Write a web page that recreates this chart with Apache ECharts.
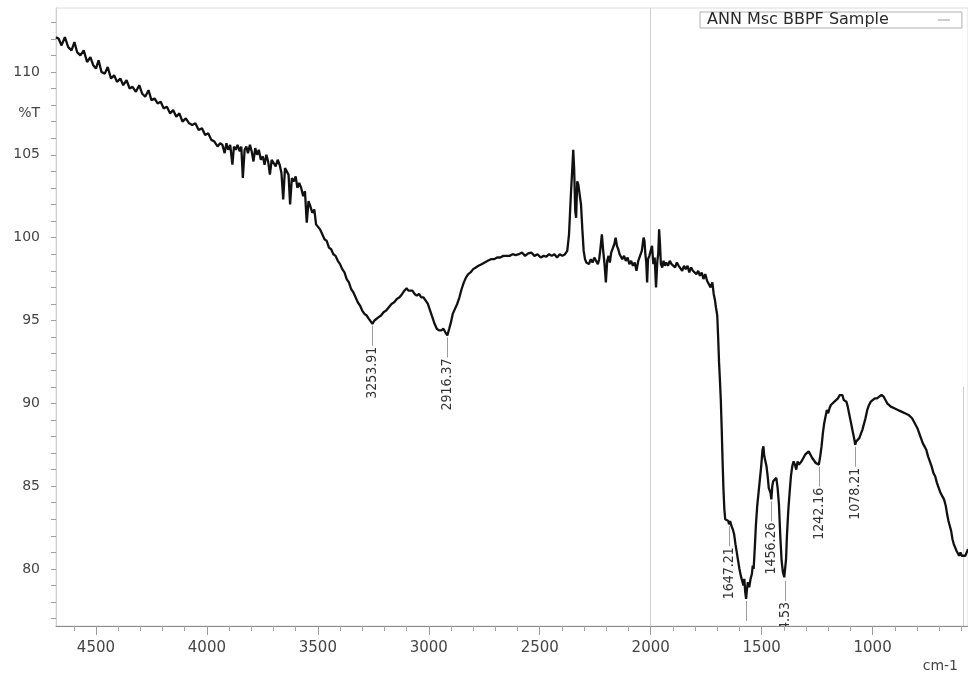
<!DOCTYPE html>
<html>
<head>
<meta charset="utf-8">
<script src="https://cdn.jsdelivr.net/npm/echarts@6/dist/echarts.min.js"></script>
<style>
  html, body { margin: 0; padding: 0; background: #ffffff; }
  #chart { width: 968px; height: 676px; }
</style>
</head>
<body>
<div id="chart"></div>
<script>
// FT-IR spectrum: wavenumber (cm-1) against transmittance (%T)
const seriesName = 'ANN Msc BBPF Sample';

const wavenumber = [
  4680, 4668, 4655, 4640, 4625, 4610, 4597, 4585, 4570, 4555, 4540, 4525, 4512, 4500, 4488, 4475,
  4460, 4447, 4432, 4418, 4405, 4390, 4377, 4362, 4348, 4335, 4320, 4305, 4292, 4278, 4263, 4250,
  4236, 4222, 4208, 4195, 4180, 4166, 4152, 4138, 4124, 4110, 4095, 4080, 4066, 4052, 4037, 4022,
  4008, 3994, 3980, 3966, 3952, 3940,
  3930, 3920, 3912, 3904, 3895, 3885, 3878, 3870, 3862, 3852, 3845, 3838, 3830, 3822, 3815, 3806,
  3798, 3790, 3782, 3774, 3766, 3757, 3748, 3740, 3732, 3724, 3716, 3708, 3700, 3690, 3681, 3672,
  3664, 3656, 3648, 3640, 3632, 3625, 3617, 3608, 3600, 3592, 3584, 3575, 3566, 3558, 3550, 3542,
  3534, 3525, 3516, 3508, 3500, 3490, 3480, 3470, 3460, 3450, 3440, 3430, 3420, 3410, 3400, 3390,
  3380, 3370, 3360, 3350, 3340, 3330, 3320, 3310, 3300, 3290, 3280, 3270, 3262, 3253.91, 3245, 3236,
  3226, 3215, 3204, 3192, 3180, 3168, 3156, 3144, 3132, 3120, 3110, 3100, 3092, 3084, 3074, 3064,
  3054, 3044, 3034, 3024, 3014, 3004, 2994, 2984, 2974, 2964, 2954, 2944, 2934, 2926, 2916.37, 2908,
  2900, 2892, 2882, 2872, 2862, 2852, 2842, 2832, 2822, 2812, 2800, 2788, 2776, 2762, 2748, 2734,
  2720, 2706, 2692, 2678, 2664, 2650, 2636, 2622, 2608, 2594, 2580, 2566, 2552, 2538, 2524, 2510,
  2496, 2482, 2470, 2458, 2446, 2434, 2422, 2410, 2398, 2386, 2376, 2368, 2360, 2354, 2349, 2345,
  2340, 2336, 2331, 2326, 2320, 2314, 2308, 2302, 2296, 2290, 2284, 2278, 2270, 2262, 2254, 2246,
  2238, 2232, 2226, 2220, 2214, 2208, 2202, 2196, 2190, 2184, 2178, 2170, 2164, 2158, 2152, 2146,
  2140, 2134, 2128, 2120, 2112, 2104, 2096, 2088, 2080, 2072, 2064, 2056, 2048, 2040, 2032, 2028,
  2024, 2020, 2016, 2012, 2006, 2000, 1994, 1988, 1982, 1976, 1970, 1966, 1962, 1958, 1954, 1948,
  1942, 1936, 1930, 1922, 1914, 1906, 1898, 1890, 1882, 1874, 1866, 1858, 1850, 1842, 1834, 1826,
  1818, 1810, 1802, 1794, 1786, 1778, 1770, 1762, 1754, 1746, 1738, 1730, 1722, 1716, 1710, 1706,
  1700, 1696, 1692, 1688, 1684, 1680, 1676, 1672, 1668, 1664, 1660, 1655, 1650, 1647.21, 1642, 1636,
  1630, 1624, 1618, 1612, 1606, 1600, 1594, 1588, 1582, 1578, 1574, 1570, 1566, 1562, 1556, 1550,
  1544, 1540, 1536, 1530, 1526, 1520, 1514, 1508, 1502, 1496, 1492, 1488, 1484, 1478, 1472, 1468,
  1464, 1460, 1456.26, 1452, 1448, 1444, 1440, 1434, 1428, 1422, 1416, 1410, 1404, 1398, 1394.53, 1390,
  1386, 1380, 1374, 1368, 1362, 1356, 1350, 1344, 1338, 1332, 1326, 1320, 1312, 1304, 1296, 1288,
  1280, 1272, 1264, 1256, 1248, 1242.16, 1236, 1230, 1224, 1218, 1212, 1206, 1200, 1194, 1188, 1180,
  1172, 1164, 1156, 1148, 1142, 1136, 1130, 1124, 1118, 1112, 1106, 1100, 1094, 1088, 1082, 1078.21,
  1074, 1068, 1060, 1052, 1046, 1040, 1032, 1024, 1016, 1008, 1000, 990, 980, 970, 960, 950,
  942, 934, 926, 918, 910, 902, 894, 886, 878, 870, 862, 854, 846, 838, 830, 822,
  814, 806, 798, 790, 782, 774, 766, 758, 750, 742, 734, 726, 718, 710, 702, 694,
  686, 678, 670, 664, 658, 652, 646, 640, 634, 628, 622, 616, 610, 604, 598, 590,
  582, 574, 570
];

const transmittance = [
  112.1, 112.0, 111.6, 112.1, 111.5, 111.3, 111.8, 111.2, 111.0, 111.3, 110.6, 110.9, 110.4, 110.2, 110.7, 110.0,
  109.9, 110.3, 109.6, 109.8, 109.4, 109.6, 109.2, 109.5, 109.0, 109.1, 108.8, 109.2, 108.7, 108.5, 108.9, 108.3,
  108.4, 108.1, 108.2, 107.8, 107.9, 107.5, 107.7, 107.3, 107.5, 107.0, 107.2, 106.9, 106.8, 106.9, 106.5, 106.6,
  106.2, 106.3, 105.9, 105.8, 105.5, 105.7,
  105.6, 105.1, 105.7, 105.3, 105.6, 104.4, 105.5, 105.3, 105.6, 105.2, 105.5, 103.6, 105.3, 105.5, 105.1, 105.6,
  105.2, 104.6, 105.4, 105.0, 105.3, 104.7, 104.9, 104.4, 105.0, 104.6, 103.8, 104.7, 104.8, 104.3, 104.7, 104.4,
  103.9, 102.3, 104.2, 104.0, 103.8, 102.0, 103.6, 103.4, 103.7, 103.0, 103.3, 103.0, 102.5, 102.8, 100.9, 102.2,
  101.9, 101.5, 101.7, 100.8, 100.9, 100.5, 100.2, 99.9, 99.8, 99.4, 99.3, 99.0, 98.9, 98.6, 98.4, 98.1,
  97.9, 97.5, 97.3, 96.9, 96.7, 96.4, 96.1, 95.9, 95.6, 95.4, 95.3, 95.1, 95.0, 94.8, 95.0, 94.95,
  95.2, 95.3, 95.5, 95.6, 95.8, 96.0, 96.1, 96.3, 96.4, 96.6, 96.8, 96.95, 96.8, 96.7, 96.8, 96.6,
  96.5, 96.6, 96.4, 96.4, 96.2, 96.0, 95.6, 95.2, 94.8, 94.5, 94.4, 94.4, 94.5, 94.3, 94.1, 94.5,
  94.9, 95.4, 95.7, 96.0, 96.4, 96.9, 97.3, 97.6, 97.8, 97.9, 98.1, 98.2, 98.3, 98.4, 98.5, 98.6,
  98.7, 98.7, 98.8, 98.8, 98.9, 98.9, 98.9, 99.0, 98.95, 99.0, 99.1, 98.9, 99.05, 99.1, 98.9, 99.0,
  98.8, 98.9, 98.85, 99.0, 98.9, 99.0, 98.8, 99.0, 98.9, 99.0, 99.2, 100.2, 102.5, 104.0, 105.3, 104.2,
  101.6, 101.2, 103.4, 103.2, 102.6, 102.0, 100.5, 99.2, 98.7, 98.5, 98.6, 98.4, 98.7, 98.5, 98.8, 98.6,
  98.4, 98.7, 99.4, 100.2, 99.2, 98.4, 97.3, 98.6, 98.9, 98.5, 99.1, 99.0, 99.6, 100.0, 99.5, 99.3,
  99.0, 99.1, 98.7, 98.9, 98.6, 98.8, 98.4, 98.6, 98.3, 98.5, 98.0, 98.6, 98.9, 99.2, 100.0, 99.8,
  99.0, 98.5, 97.3, 98.7, 98.9, 99.0, 99.5, 98.4, 98.8, 97.0, 98.6, 99.0, 100.5, 99.6, 98.4, 98.2,
  98.6, 98.3, 98.5, 98.3, 98.6, 98.4, 98.5, 98.2, 98.5, 98.3, 98.4, 98.0, 98.3, 98.1, 98.3, 97.9,
  98.2, 98.0, 98.1, 97.8, 98.0, 97.7, 97.9, 97.5, 97.8, 97.4, 97.5, 97.0, 97.3, 96.6, 96.2, 95.8,
  95.3, 94.0, 92.5, 91.4, 90.2, 88.5, 86.5, 84.8, 83.6, 83.0, 82.9, 83.1, 82.9, 82.7, 82.9, 82.6,
  82.4, 82.1, 81.5, 81.0, 80.5, 80.0, 79.6, 79.3, 79.0, 79.4, 78.6, 78.2, 78.8, 79.2, 78.9, 79.4,
  79.7, 80.2, 80.0, 81.5, 82.6, 83.8, 84.6, 85.4, 86.2, 87.2, 87.4, 86.8, 86.9, 86.2, 85.5, 84.9,
  85.0, 84.6, 84.2, 85.0, 85.3, 85.4, 85.2, 85.5, 84.9, 83.9, 82.0, 80.5, 79.8, 79.5, 79.4, 80.6,
  82.0, 83.5, 84.6, 85.6, 86.2, 86.5, 86.3, 86.0, 86.5, 86.3, 86.2, 86.5, 86.7, 86.9, 87.0, 87.1,
  86.9, 86.7, 86.6, 86.4, 86.5, 86.3, 86.8, 87.4, 88.2, 88.8, 89.2, 89.6, 89.4, 89.7, 89.9, 89.8,
  90.1, 90.0, 90.3, 90.5, 90.4, 90.5, 90.2, 90.3, 90.1, 89.8, 89.4, 89.0, 88.6, 88.2, 87.8, 87.5,
  87.7, 87.8, 87.9, 88.0, 88.4, 88.7, 89.1, 89.6, 89.9, 90.1, 90.1, 90.3, 90.3, 90.4, 90.5, 90.4,
  90.2, 90.0, 89.9, 89.8, 89.9, 89.7, 89.8, 89.6, 89.7, 89.5, 89.6, 89.4, 89.5, 89.3, 89.2, 89.1,
  88.9, 88.8, 88.5, 88.2, 87.9, 87.6, 87.4, 87.2, 86.8, 86.5, 86.2, 85.8, 85.6, 85.2, 84.9, 84.6,
  84.4, 84.2, 83.8, 83.3, 82.9, 82.6, 82.3, 81.8, 81.5, 81.6, 81.1, 81.0, 80.8, 81.0, 80.8, 80.9,
  80.8, 80.9, 81.2
];

// Annotated band positions and their printed labels
const peakWavenumbers = [3253.91, 2916.37, 1647.21, 1570, 1456.26, 1394.53, 1242.16, 1078.21];
const peakLabels = ['3253.91', '2916.37', '1647.21', '', '1456.26', '1394.53', '1242.16', '1078.21'];

// Axis ticks and labels
const xLabelValues = [4500, 4000, 3500, 3000, 2500, 2000, 1500, 1000];
const xMinorTickValues = [4600, 4400, 4300, 4200, 4100, 3900, 3800, 3700, 3600, 3400, 3300, 3200, 3100,
  2900, 2800, 2700, 2600, 2400, 2300, 2200, 2100, 1900, 1800, 1700, 1600, 1400, 1300, 1200, 1100,
  900, 800, 700, 600];
const yLabelValues = [80, 85, 90, 95, 100, 105, 110];
const yTickValues = [77, 78, 79, 80, 81, 82, 83, 84, 85, 86, 87, 88, 89, 90, 91, 92, 93, 94, 95,
  96, 97, 98, 99, 100, 101, 102, 103, 104, 105, 106, 107, 108, 109, 110, 111, 112, 113];
const yUnitLabel = '%T';
const yUnitLabelAt = 107.5;
const xUnitLabel = 'cm-1';

const spectrum = wavenumber.map((w, i) => [w, transmittance[i]]);
const peakData = peakWavenumbers.map(w => [w, transmittance[wavenumber.indexOf(w)]]);

const X_MIN = 570, X_MAX = 4680;
const Y_MIN = 76.56, Y_MAX = 113.86;
const tickFont = '"DejaVu Sans", "Liberation Sans", sans-serif';
const peakFont = '14px "Liberation Sans Narrow", "DejaVu Sans Condensed", "Liberation Sans", sans-serif';

const chart = echarts.init(document.getElementById('chart'), null, { renderer: 'canvas' });

chart.setOption({
  animation: false,
  backgroundColor: '#ffffff',
  grid: {
    left: 56, right: 0, top: 8, bottom: 50,
    show: true, borderColor: '#dcdcdc', borderWidth: 1, backgroundColor: 'transparent'
  },
  legend: {
    data: [seriesName],
    left: 700, top: 12,
    align: 'right',
    icon: 'rect',
    itemWidth: 12, itemHeight: 1,
    itemStyle: { color: '#9a9a9a' },
    borderColor: '#b0b0b0', borderWidth: 1,
    padding: [0, 12, 0, 7],
    textStyle: {
      fontFamily: tickFont, fontSize: 16, color: '#2a2a2a', lineHeight: 14,
      padding: [0, 44, 0, 0]
    }
  },
  xAxis: [
    {
      type: 'value', inverse: true, min: X_MIN, max: X_MAX,
      axisLine: { show: true, onZero: false, lineStyle: { color: '#8a8a8a', width: 1 } },
      axisTick: { show: true, length: 9, customValues: xLabelValues, lineStyle: { color: '#9a9a9a' } },
      axisLabel: {
        customValues: xLabelValues, formatter: v => String(v),
        margin: 15, fontFamily: tickFont, fontSize: 15, color: '#454545'
      },
      splitLine: { show: false }
    },
    {
      type: 'value', inverse: true, min: X_MIN, max: X_MAX, position: 'bottom',
      axisLine: { show: false, onZero: false },
      axisTick: { show: true, length: 5, customValues: xMinorTickValues, lineStyle: { color: '#a5a5a5' } },
      axisLabel: { show: false },
      splitLine: { show: false }
    }
  ],
  yAxis: {
    type: 'value', min: Y_MIN, max: Y_MAX,
    axisLine: { show: true, onZero: false, lineStyle: { color: '#d0d0d0', width: 1 } },
    axisTick: { show: true, length: 5, customValues: yTickValues, lineStyle: { color: '#a0a0a0' } },
    axisLabel: {
      customValues: yLabelValues.concat([yUnitLabelAt]),
      formatter: v => (v === yUnitLabelAt ? yUnitLabel : String(v)),
      margin: 16, fontFamily: tickFont, fontSize: 14, color: '#454545'
    },
    splitLine: { show: false }
  },
  graphic: [
    {
      type: 'text', right: 10, top: 659,
      style: { text: xUnitLabel, font: '14px ' + tickFont, fill: '#454545' }
    }
  ],
  series: [
    {
      name: seriesName,
      type: 'line',
      data: spectrum,
      showSymbol: false,
      symbol: 'none',
      lineStyle: { color: '#111111', width: 2.3 },
      itemStyle: { color: '#111111' },
      z: 5,
      markLine: {
        silent: true,
        symbol: 'none',
        label: { show: false },
        lineStyle: { color: '#cfcfcf', width: 1, type: 'solid' },
        data: [
          { xAxis: 2000 },
          [{ coord: [592, 91] }, { coord: [592, Y_MIN] }]
        ]
      }
    },
    {
      type: 'custom',
      clip: true,
      data: peakData,
      z: 4,
      renderItem: function (params, api) {
        const p = api.coord([api.value(0), api.value(1)]);
        const x = Math.round(p[0]) + 0.5;
        const yTop = p[1] + 2;
        const yBottom = yTop + 20;
        return {
          type: 'group',
          children: [
            {
              type: 'line',
              shape: { x1: x, y1: yTop, x2: x, y2: yBottom },
              style: { stroke: '#9c9c9c', lineWidth: 1 }
            },
            {
              type: 'text',
              x: x, y: yBottom + 1,
              rotation: Math.PI / 2,
              style: {
                text: peakLabels[params.dataIndex],
                align: 'right', verticalAlign: 'middle',
                font: peakFont, fill: '#333333'
              }
            }
          ]
        };
      }
    }
  ]
});
</script>
</body>
</html>
